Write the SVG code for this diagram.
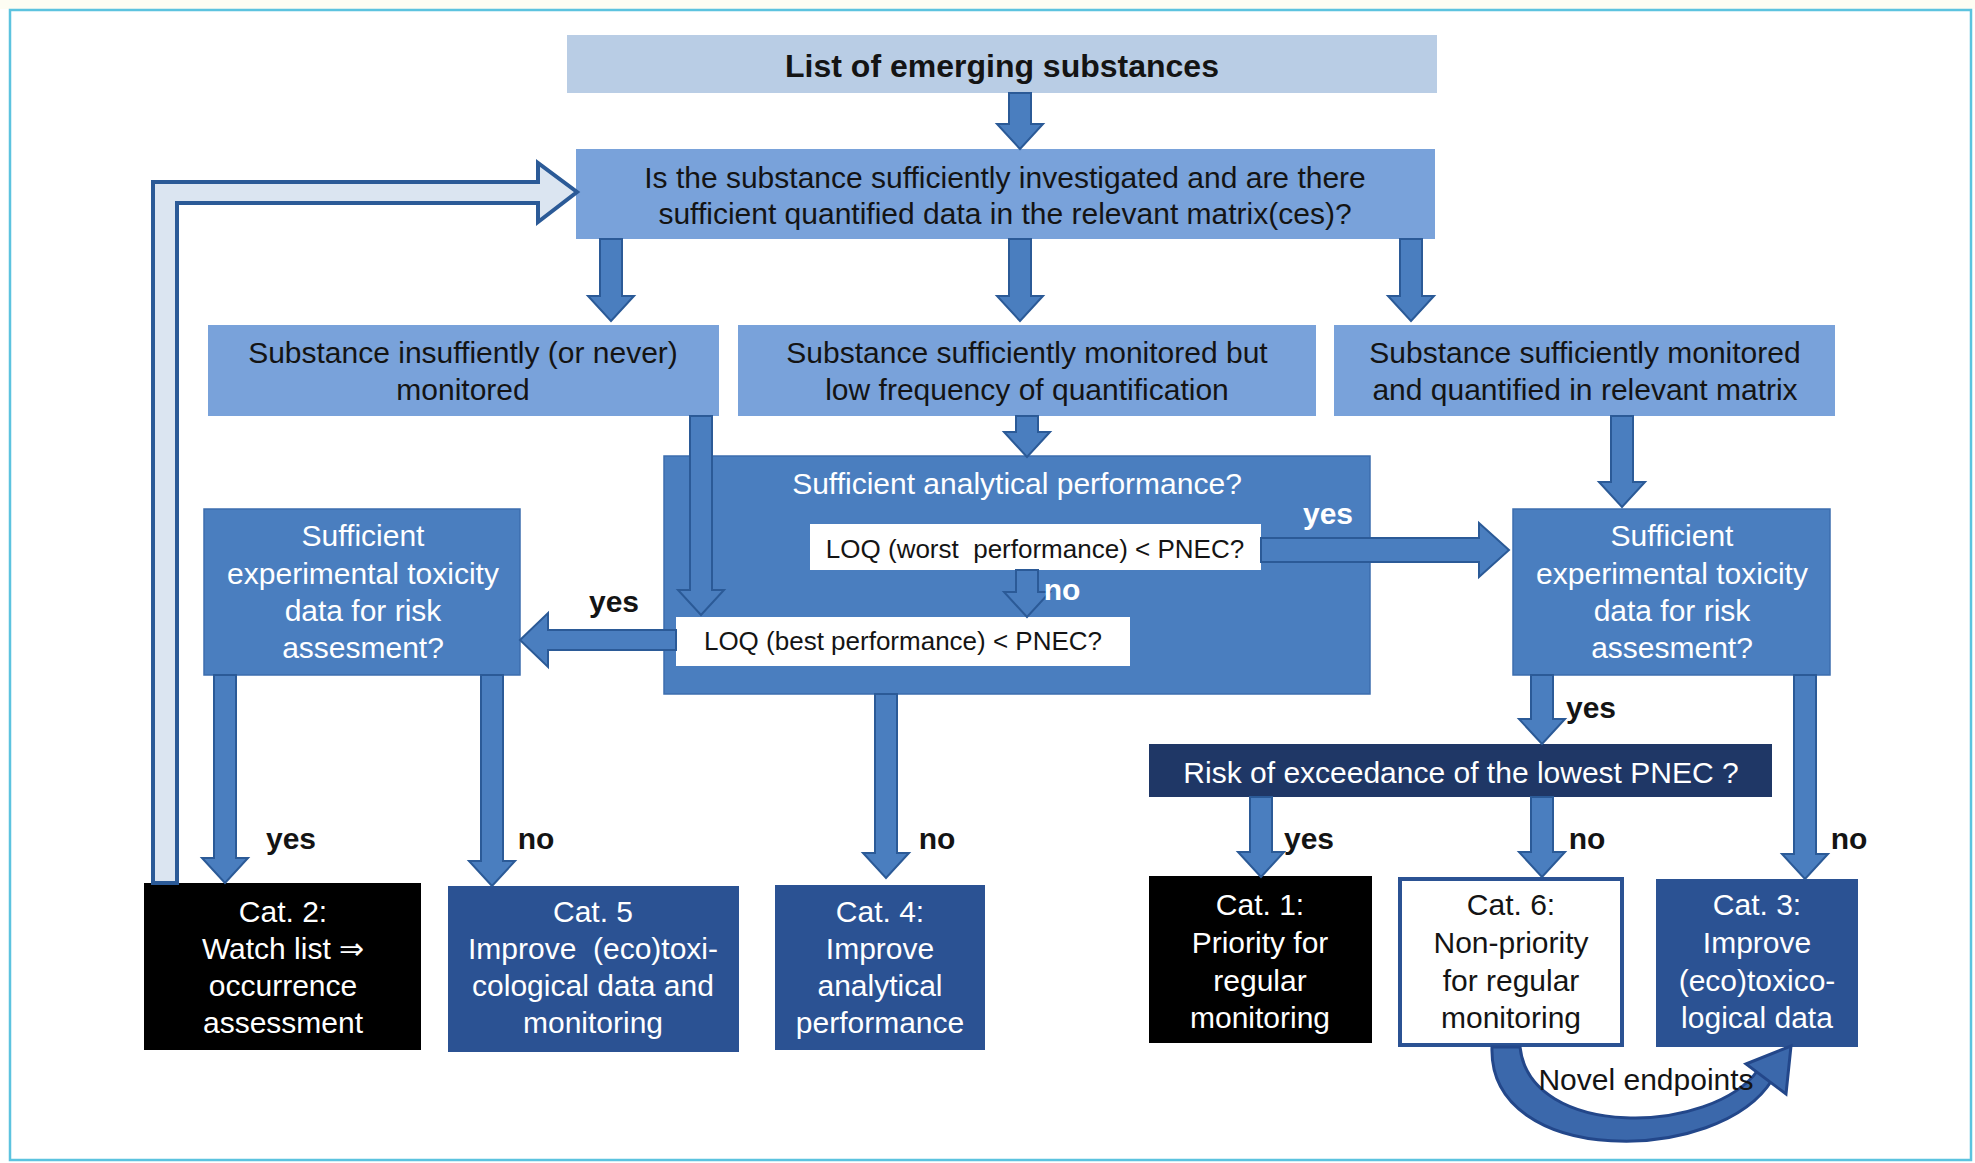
<svg xmlns="http://www.w3.org/2000/svg" width="1975" height="1163" viewBox="0 0 1975 1163">
  <style>
    .t { font-family: "Liberation Sans", Arial, sans-serif; font-size: 30px; text-anchor: middle; }
    .s { font-size: 26px; }
    .b { font-weight: bold; }
    .dk { fill: #141414; }
    .wt { fill: #ffffff; }
    .light { fill: #b9cde5; }
    .mid { fill: #79a2da; }
    .blue { fill: #4a7ebf; stroke: #3d6eae; stroke-width: 1.5; }
    .dark { fill: #2b5293; }
    .navy { fill: #1f3766; }
    .black { fill: #000000; }
    .white { fill: #ffffff; }
    .arrow { fill: #4a7ebf; stroke: #2b5a97; stroke-width: 2; stroke-linejoin: miter; }
  </style>

  <rect x="0" y="0" width="1975" height="1163" fill="#ffffff"/>
  <rect x="0" y="0" width="1975" height="9" fill="#fdfdf3"/>
  <rect x="10" y="10" width="1961" height="1150" fill="none" stroke="#5cc3df" stroke-width="2.5"/>

  <g id="nodes">
    <g id="n-list">
      <rect class="light" x="567" y="35" width="870" height="58"/>
      <text class="t b dk" x="1002" y="77" style="font-size:32px">List of emerging substances</text>
    </g>
    <g id="n-question">
      <rect class="mid" x="576" y="149" width="859" height="90"/>
      <text class="t dk" x="1005" y="188">Is the substance sufficiently investigated and are there</text>
      <text class="t dk" x="1005" y="224">sufficient quantified data in the relevant matrix(ces)?</text>
    </g>
    <g id="n-insufficient">
      <rect class="mid" x="208" y="325" width="511" height="91"/>
      <text class="t dk" x="463" y="363">Substance insuffiently (or never)</text>
      <text class="t dk" x="463" y="400">monitored</text>
    </g>
    <g id="n-lowfreq">
      <rect class="mid" x="738" y="325" width="578" height="91"/>
      <text class="t dk" x="1027" y="363">Substance sufficiently monitored but</text>
      <text class="t dk" x="1027" y="400">low frequency of quantification</text>
    </g>
    <g id="n-quantified">
      <rect class="mid" x="1334" y="325" width="501" height="91"/>
      <text class="t dk" x="1585" y="363">Substance sufficiently monitored</text>
      <text class="t dk" x="1585" y="400">and quantified in relevant matrix</text>
    </g>
    <g id="n-analytical">
      <rect class="blue" x="664" y="456" width="706" height="238"/>
      <text class="t wt" x="1017" y="494">Sufficient analytical performance?</text>
    </g>
    <g id="n-loq-worst">
      <rect class="white" x="810" y="524" width="451" height="46"/>
      <text class="t s dk" x="1035" y="558" xml:space="preserve">LOQ (worst  performance) &lt; PNEC?</text>
    </g>
    <g id="n-loq-best">
      <rect class="white" x="676" y="617" width="454" height="49"/>
      <text class="t s dk" x="903" y="650">LOQ (best performance) &lt; PNEC?</text>
    </g>
    <g id="n-tox-left">
      <rect class="blue" x="204" y="509" width="316" height="166"/>
      <text class="t wt" x="363" y="546">Sufficient</text>
      <text class="t wt" x="363" y="584">experimental toxicity</text>
      <text class="t wt" x="363" y="621">data for risk</text>
      <text class="t wt" x="363" y="658">assesment?</text>
    </g>
    <g id="n-tox-right">
      <rect class="blue" x="1513" y="509" width="317" height="166"/>
      <text class="t wt" x="1672" y="546">Sufficient</text>
      <text class="t wt" x="1672" y="584">experimental toxicity</text>
      <text class="t wt" x="1672" y="621">data for risk</text>
      <text class="t wt" x="1672" y="658">assesment?</text>
    </g>
    <g id="n-risk">
      <rect class="navy" x="1149" y="744" width="623" height="53"/>
      <text class="t wt" x="1461" y="783">Risk of exceedance of the lowest PNEC ?</text>
    </g>
    <g id="n-cat2">
      <rect class="black" x="144" y="883" width="277" height="167"/>
      <text class="t wt" x="283" y="922">Cat. 2:</text>
      <text class="t wt" x="283" y="959">Watch list ⇒</text>
      <text class="t wt" x="283" y="996">occurrence</text>
      <text class="t wt" x="283" y="1033">assessment</text>
    </g>
    <g id="n-cat5">
      <rect class="dark" x="448" y="886" width="291" height="166"/>
      <text class="t wt" x="593" y="922">Cat. 5</text>
      <text class="t wt" x="593" y="959" xml:space="preserve">Improve  (eco)toxi-</text>
      <text class="t wt" x="593" y="996">cological data and</text>
      <text class="t wt" x="593" y="1033">monitoring</text>
    </g>
    <g id="n-cat4">
      <rect class="dark" x="775" y="885" width="210" height="165"/>
      <text class="t wt" x="880" y="922">Cat. 4:</text>
      <text class="t wt" x="880" y="959">Improve</text>
      <text class="t wt" x="880" y="996">analytical</text>
      <text class="t wt" x="880" y="1033">performance</text>
    </g>
    <g id="n-cat1">
      <rect class="black" x="1149" y="876" width="223" height="167"/>
      <text class="t wt" x="1260" y="915">Cat. 1:</text>
      <text class="t wt" x="1260" y="953">Priority for</text>
      <text class="t wt" x="1260" y="991">regular</text>
      <text class="t wt" x="1260" y="1028">monitoring</text>
    </g>
    <g id="n-cat6">
      <rect x="1400" y="879" width="222" height="166" fill="#ffffff" stroke="#2b5293" stroke-width="4"/>
      <text class="t dk" x="1511" y="915">Cat. 6:</text>
      <text class="t dk" x="1511" y="953">Non-priority</text>
      <text class="t dk" x="1511" y="991">for regular</text>
      <text class="t dk" x="1511" y="1028">monitoring</text>
    </g>
    <g id="n-cat3">
      <rect class="dark" x="1656" y="879" width="202" height="168"/>
      <text class="t wt" x="1757" y="915">Cat. 3:</text>
      <text class="t wt" x="1757" y="953">Improve</text>
      <text class="t wt" x="1757" y="991">(eco)toxico-</text>
      <text class="t wt" x="1757" y="1028">logical data</text>
    </g>
  </g>

  <g id="connectors">
    <polygon class="arrow" points="1009,93 1031,93 1031,124 1043,124 1020,149 997,124 1009,124"/>
    <polygon class="arrow" points="600,239 622,239 622,296 634,296 611,321 588,296 600,296"/>
    <polygon class="arrow" points="1009,239 1031,239 1031,296 1043,296 1020,321 997,296 1009,296"/>
    <polygon class="arrow" points="1400,239 1422,239 1422,296 1434,296 1411,321 1388,296 1400,296"/>
    <polygon class="arrow" points="690,416 712,416 712,590 724,590 701,615 678,590 690,590"/>
    <polygon class="arrow" points="1016,416 1038,416 1038,432 1050,432 1027,457 1004,432 1016,432"/>
    <polygon class="arrow" points="1016,570 1038,570 1038,592 1050,592 1027,617 1004,592 1016,592"/>
    <polygon class="arrow" points="1611,416 1633,416 1633,482 1645,482 1622,507 1599,482 1611,482"/>
    <polygon class="arrow" points="214,675 236,675 236,858 248,858 225,883 202,858 214,858"/>
    <polygon class="arrow" points="481,675 503,675 503,861 515,861 492,886 469,861 481,861"/>
    <polygon class="arrow" points="875,694 897,694 897,853 909,853 886,878 863,853 875,853"/>
    <polygon class="arrow" points="1531,675 1553,675 1553,719 1565,719 1542,744 1519,719 1531,719"/>
    <polygon class="arrow" points="1794,675 1816,675 1816,854 1828,854 1805,879 1782,854 1794,854"/>
    <polygon class="arrow" points="1250,797 1272,797 1272,852 1284,852 1261,877 1238,852 1250,852"/>
    <polygon class="arrow" points="1531,797 1553,797 1553,852 1565,852 1542,877 1519,852 1531,852"/>
    <polygon class="arrow" points="676,630 548,630 548,613 520,640 548,667 548,650 676,650"/>
    <polygon class="arrow" points="1261,538 1479,538 1479,523 1509,550 1479,577 1479,562 1261,562"/>
    <polygon points="177,883 177,203 538,203 538,222 577,192 538,163 538,182 153,182 153,883" fill="#dbe5f1" stroke="#2b5a97" stroke-width="4" stroke-linejoin="miter"/>
    <path d="M1492,1047 C1488,1168 1720,1165 1772,1080 L1758,1070 C1712,1135 1530,1140 1520,1047 Z" fill="#3b68ab" stroke="#23478a" stroke-width="3" stroke-linejoin="round"/>
    <polygon points="1746,1064 1791,1046 1786,1094" fill="#3b68ab" stroke="#23478a" stroke-width="3" stroke-linejoin="miter"/>

    <text class="t b dk" x="614" y="612">yes</text>
    <text class="t b wt" x="1328" y="524">yes</text>
    <text class="t b wt" x="1062" y="600">no</text>
    <text class="t b dk" x="291" y="849">yes</text>
    <text class="t b dk" x="536" y="849">no</text>
    <text class="t b dk" x="937" y="849">no</text>
    <text class="t b dk" x="1591" y="718">yes</text>
    <text class="t b dk" x="1309" y="849">yes</text>
    <text class="t b dk" x="1587" y="849">no</text>
    <text class="t b dk" x="1849" y="849">no</text>
    <text class="t dk" x="1646" y="1090">Novel endpoints</text>
  </g>
</svg>
